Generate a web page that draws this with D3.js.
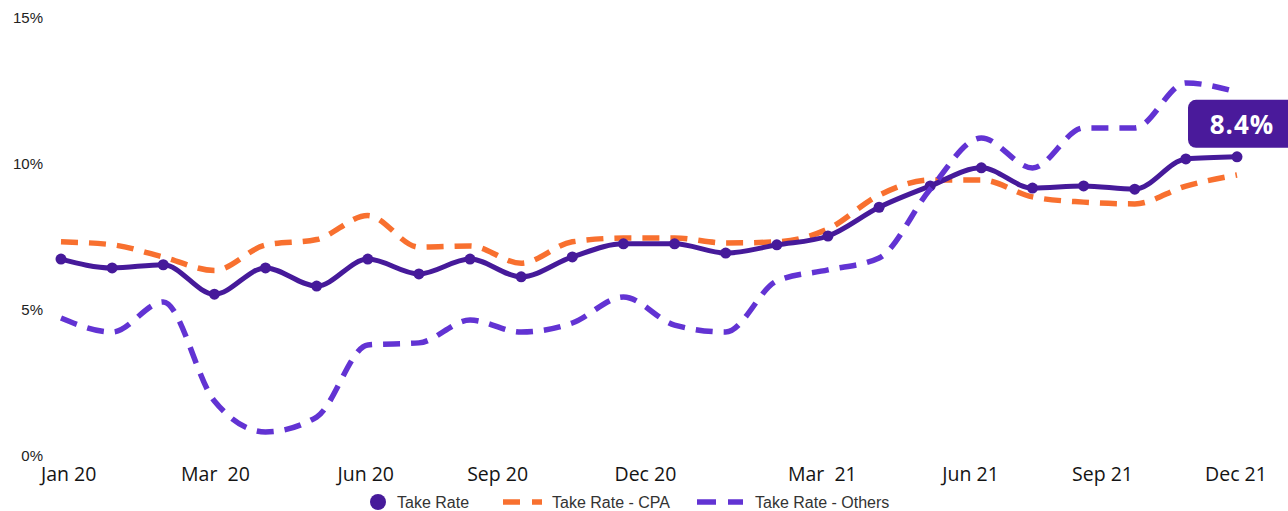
<!DOCTYPE html>
<html>
<head>
<meta charset="utf-8">
<script src="https://cdn.jsdelivr.net/npm/d3@7/dist/d3.min.js"></script>
<style>
  html, body { margin: 0; padding: 0; background: #ffffff; overflow: hidden; }
  svg { display: block; }
</style>
</head>
<body>
<svg id="chart" width="1288" height="511"></svg>
<script>
// Monthly periods, Jan 2020 – Dec 2021
const months = ["Jan 20","Feb 20","Mar 20","Apr 20","May 20","Jun 20","Jul 20","Aug 20","Sep 20","Oct 20","Nov 20","Dec 20",
                "Jan 21","Feb 21","Mar 21","Apr 21","May 21","Jun 21","Jul 21","Aug 21","Sep 21","Oct 21","Nov 21","Dec 21"];

// Blended take rate (%), plotted on its own scale
const takeRate = [5.52, 5.27, 5.36, 4.53, 5.27, 4.76, 5.52, 5.10, 5.52, 5.02, 5.58, 5.95,
                  5.95, 5.69, 5.92, 6.17, 6.98, 7.58, 8.09, 7.52, 7.58, 7.49, 8.34, 8.40];
const takeRateScaleMax = 12.34;

// Take rate by channel (%), on the labelled 0–15% axis
const takeRateCPA = [7.30, 7.20, 6.78, 6.32, 7.19, 7.38, 8.20, 7.12, 7.16, 6.57, 7.30, 7.43,
                     7.43, 7.26, 7.30, 7.74, 8.90, 9.42, 9.42, 8.84, 8.66, 8.60, 9.21, 9.59];
const takeRateOthers = [4.69, 4.21, 5.24, 1.85, 0.79, 1.30, 3.77, 3.84, 4.62, 4.21, 4.52, 5.41,
                        4.45, 4.21, 5.96, 6.34, 6.75, 9.10, 10.86, 9.83, 11.20, 11.20, 12.74, 12.43];

// Axis ticks
const yTicks = [0, 5, 10, 15];
const xTickLabels = ["Jan 20", "Mar  20", "Jun 20", "Sep 20", "Dec 20", "Mar  21", "Jun 21", "Sep 21", "Dec 21"];
const xTickAt = [0.14, 3.01, 5.95, 8.53, 11.42, 14.88, 17.78, 20.36, 22.97];

const seriesNames = ["Take Rate", "Take Rate - CPA", "Take Rate - Others"];

const COLORS = { take: "#461a9a", cpa: "#f8702f", others: "#6233d3" };

const svg = d3.select("#chart");
const W = 1288, H = 511;
const margin = { left: 61, right: 51, top: 17, bottom: 56 };

const x = d3.scaleLinear().domain([0, months.length - 1]).range([margin.left, W - margin.right]);
const y = d3.scaleLinear().domain([0, 15]).range([H - margin.bottom, margin.top]);
const yTake = d3.scaleLinear().domain([0, takeRateScaleMax]).range([H - margin.bottom, margin.top]);

// Y axis labels
const yAxis = d3.axisLeft(y).tickValues(yTicks).tickFormat(d => d + "%").tickSize(0).tickPadding(0);
svg.append("g")
  .attr("transform", "translate(43,0)")
  .call(yAxis)
  .call(g => g.select(".domain").remove())
  .call(g => g.selectAll("text")
    .attr("font-family", "'Liberation Sans', Arial, sans-serif")
    .attr("font-size", 15)
    .attr("fill", "#222")
    .attr("dy", "0.35em"));

// X axis labels
const xAxis = d3.axisBottom(x).tickValues(xTickAt)
  .tickFormat((d, i) => xTickLabels[i]).tickSize(0).tickPadding(0);
svg.append("g")
  .attr("transform", "translate(0,481)")
  .call(xAxis)
  .call(g => g.select(".domain").remove())
  .call(g => g.selectAll("text")
    .attr("font-family", "'Open Sans', sans-serif")
    .attr("font-size", 19.5)
    .attr("fill", "#141414")
    .attr("dy", 0)
    .attr("y", 0)
    .style("white-space", "pre"));

const curve = d3.curveMonotoneX;

const lineCh = d3.line().x((d, i) => x(i)).y(d => y(d)).curve(curve);
const lineTake = d3.line().x((d, i) => x(i)).y(d => yTake(d)).curve(curve);

// CPA
svg.append("path")
  .datum(takeRateCPA)
  .attr("d", lineCh)
  .attr("fill", "none")
  .attr("stroke", COLORS.cpa)
  .attr("stroke-width", 5.5)
  .attr("stroke-dasharray", "17 11");

// Blended take rate
svg.append("path")
  .datum(takeRate)
  .attr("d", lineTake)
  .attr("fill", "none")
  .attr("stroke", COLORS.take)
  .attr("stroke-width", 5)
  .attr("stroke-linejoin", "round");

svg.append("g").selectAll("circle")
  .data(takeRate)
  .join("circle")
  .attr("cx", (d, i) => x(i))
  .attr("cy", d => yTake(d))
  .attr("r", 5.5)
  .attr("fill", COLORS.take);

// Others
svg.append("path")
  .datum(takeRateOthers)
  .attr("d", lineCh)
  .attr("fill", "none")
  .attr("stroke", COLORS.others)
  .attr("stroke-width", 5.5)
  .attr("stroke-dasharray", "17 11");

// Latest value callout
const last = takeRate.length - 1;
const px = x(last), py = yTake(takeRate[last]);
svg.append("rect")
  .attr("x", px - 49).attr("y", py - 57)
  .attr("width", 130).attr("height", 48)
  .attr("rx", 8).attr("ry", 8)
  .attr("fill", "#4a1a9b");
svg.append("text")
  .attr("x", px + 5).attr("y", py - 23)
  .attr("text-anchor", "middle")
  .attr("font-family", "'Open Sans', sans-serif")
  .attr("font-weight", 700)
  .attr("font-size", 26)
  .attr("letter-spacing", 1)
  .attr("fill", "#ffffff")
  .text(d3.format(".1f")(takeRate[last]) + "%");

// Legend
const legend = svg.append("g")
  .attr("font-family", "'Liberation Sans', Arial, sans-serif")
  .attr("font-size", 16)
  .attr("fill", "#333");
legend.append("circle").attr("cx", 378).attr("cy", 502).attr("r", 8).attr("fill", COLORS.take);
legend.append("text").attr("x", 397).attr("y", 508).text(seriesNames[0]);
legend.append("line").attr("x1", 503).attr("x2", 542).attr("y1", 502).attr("y2", 502)
  .attr("stroke", COLORS.cpa).attr("stroke-width", 5.5).attr("stroke-dasharray", "17 12");
legend.append("text").attr("x", 552).attr("y", 508).text(seriesNames[1]);
legend.append("line").attr("x1", 697).attr("x2", 743).attr("y1", 502).attr("y2", 502)
  .attr("stroke", COLORS.others).attr("stroke-width", 5.5).attr("stroke-dasharray", "19 12");
legend.append("text").attr("x", 755).attr("y", 508).text(seriesNames[2]);
</script>
</body>
</html>
